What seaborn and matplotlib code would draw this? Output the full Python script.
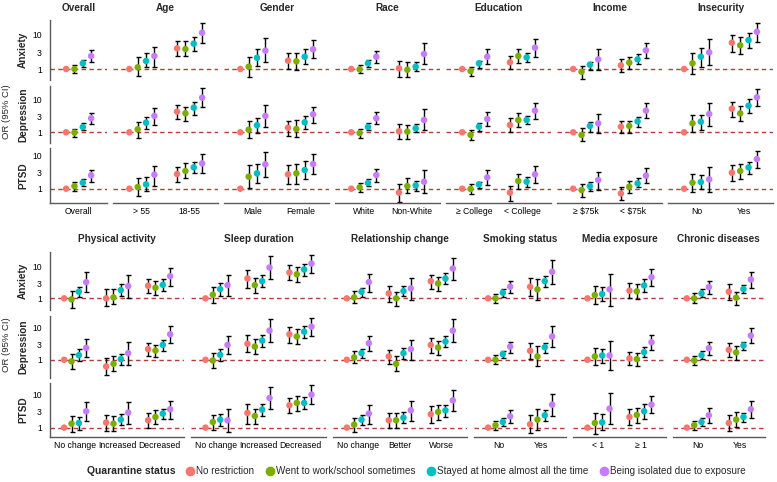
import numpy as np
import pandas as pd
import matplotlib
matplotlib.use("Agg")
import matplotlib.pyplot as plt
from matplotlib.lines import Line2D
from matplotlib.ticker import FixedLocator, NullLocator
import seaborn as sns

sns.set_theme(style="white")
plt.rcParams['font.family'] = ['Liberation Sans', 'DejaVu Sans']

N = None
STATUSES = ["No restriction", "Went to work/school sometimes",
            "Stayed at home almost all the time", "Being isolated due to exposure"]
COLORS = ["#F8766D", "#7CAE00", "#00BFC4", "#C77CFF"]
OUTCOMES = ["Anxiety", "Depression", "PTSD"]

# ---- each value: (OR, lower CI, upper CI); reference group has no CI ----
overall_groups = ["Overall"]
overall_anx = [[(1, N, N), (1.0, 0.75, 1.28), (1.47, 1.17, 1.8), (2.41, 1.64, 3.62)]]
overall_dep = [[(1, N, N), (0.98, 0.74, 1.29), (1.45, 1.15, 1.87), (2.66, 1.79, 3.76)]]
overall_ptsd = [[(1, N, N), (1.2, 0.87, 1.59), (1.52, 1.2, 1.96), (2.54, 1.63, 3.68)]]

age_groups = ["> 55", "18-55"]
age_anx = [[(1, N, N), (1.12, 0.61, 2.2), (1.72, 1.17, 2.89), (2.41, 1.17, 4.53)],
           [(4.05, 2.47, 6.8), (3.87, 2.41, 6.5), (5.57, 3.46, 8.9), (11.7, 5.95, 23)]]
age_dep = [[(1, N, N), (1.23, 0.69, 2.1), (1.96, 1.23, 2.98), (3.13, 1.67, 5.6)],
           [(4.23, 2.54, 6.7), (3.76, 2.25, 6.0), (5.6, 3.35, 8.5), (11.2, 5.7, 21.6)]]
age_ptsd = [[(1, N, N), (1.12, 0.6, 2.06), (1.35, 0.85, 2.2), (2.66, 1.2, 4.87)],
            [(2.78, 1.63, 4.43), (3.43, 2.06, 5.85), (4.43, 2.92, 6.6), (5.85, 2.92, 11.2)]]

gender_groups = ["Male", "Female"]
gender_anx = [[(1, N, N), (1.17, 0.6, 2.3), (2.15, 1.22, 3.79), (3.46, 1.57, 8.0)],
              [(1.76, 0.98, 3.02), (1.68, 0.93, 2.89), (2.3, 1.4, 3.79), (3.79, 2.06, 7.1)]]
gender_dep = [[(1, N, N), (1.2, 0.66, 2.25), (1.63, 0.98, 2.78), (3.13, 1.48, 6.7)],
              [(1.38, 0.77, 2.25), (1.26, 0.74, 2.36), (2.01, 1.23, 3.2), (3.51, 1.96, 6.0)]]
gender_ptsd = [[(1, N, N), (2.31, 1.02, 5.1), (2.92, 1.45, 5.6), (5.47, 2.31, 13.2)],
               [(2.72, 1.35, 5.2), (2.92, 1.38, 5.6), (3.68, 1.96, 6.9), (5.6, 2.72, 11.2)]]

race_groups = ["White", "Non-White"]
race_anx = [[(1, N, N), (0.98, 0.75, 1.31), (1.47, 1.17, 1.84), (2.3, 1.47, 3.46)],
            [(1.05, 0.6, 1.72), (0.95, 0.57, 1.57), (1.17, 0.87, 1.64), (2.76, 1.37, 5.7)]]
race_dep = [[(1, N, N), (0.95, 0.69, 1.29), (1.45, 1.18, 1.87), (2.66, 1.75, 4.04)],
            [(1.07, 0.63, 1.79), (1.05, 0.63, 1.67), (1.32, 1.0, 1.79), (2.36, 1.18, 4.98)]]
race_ptsd = [[(1, N, N), (1.1, 0.81, 1.52), (1.49, 1.2, 1.92), (2.6, 1.63, 3.95)],
             [(0.76, 0.4, 1.38), (1.2, 0.72, 2.06), (1.26, 0.87, 1.71), (1.63, 0.76, 3.68)]]

edu_groups = ["≥ College", "< College"]
edu_anx = [[(1, N, N), (0.87, 0.62, 1.17), (1.47, 1.09, 1.72), (2.3, 1.4, 3.79)],
           [(1.57, 0.98, 2.47), (2.41, 1.47, 3.79), (2.2, 1.57, 3.02), (4.24, 2.3, 7.45)]]
edu_dep = [[(1, N, N), (0.83, 0.59, 1.17), (1.48, 1.12, 1.87), (2.53, 1.56, 4.23)],
           [(1.67, 1.0, 2.66), (2.36, 1.48, 3.76), (2.36, 1.75, 3.13), (4.53, 2.53, 7.9)]]
edu_ptsd = [[(1, N, N), (0.98, 0.69, 1.35), (1.35, 1.02, 1.63), (2.2, 1.29, 3.68)],
            [(0.76, 0.42, 1.23), (1.71, 0.98, 2.85), (1.63, 1.15, 2.31), (2.72, 1.52, 4.98)]]

income_groups = ["≥ \\$75k", "< \\$75k"]
income_anx = [[(1, N, N), (0.83, 0.51, 1.22), (1.34, 0.93, 1.64), (1.92, 0.93, 3.79)],
              [(1.28, 0.83, 1.92), (1.54, 0.98, 2.2), (1.92, 1.37, 2.7), (3.54, 2.06, 5.7)]]
income_dep = [[(1, N, N), (0.83, 0.55, 1.32), (1.56, 1.05, 2.1), (1.87, 0.98, 3.51)],
              [(1.48, 0.98, 2.25), (1.56, 0.98, 2.25), (2.15, 1.48, 2.98), (4.53, 2.78, 7.6)]]
income_ptsd = [[(1, N, N), (0.91, 0.57, 1.38), (1.2, 0.85, 1.63), (1.83, 0.91, 3.27)],
               [(0.72, 0.45, 1.1), (1.15, 0.76, 1.75), (1.45, 1.1, 2.06), (2.48, 1.52, 4.13)]]

insec_groups = ["No", "Yes"]
insec_anx = [[(1, N, N), (1.47, 0.71, 2.89), (2.3, 1.17, 4.05), (3.09, 1.31, 7.45)],
             [(5.95, 3.24, 10.2), (4.97, 2.7, 8.5), (7.1, 4.24, 11.7), (12.5, 6.35, 23)]]
insec_dep = [[(1, N, N), (1.87, 1.0, 3.35), (2.1, 1.18, 3.43), (3.6, 1.59, 7.6)],
             [(5.2, 2.98, 8.5), (3.76, 2.25, 6.3), (6.4, 3.95, 10), (11.5, 6.3, 20.5)]]
insec_ptsd = [[(1, N, N), (1.52, 0.81, 2.78), (1.59, 0.95, 2.6), (1.92, 0.77, 4.43)],
              [(3.05, 1.75, 5.2), (3.43, 1.96, 5.6), (4.43, 2.78, 6.6), (7.9, 4.13, 14.2)]]

pa_groups = ["No change", "Increased", "Decreased"]
pa_anx = [[(1, N, N), (0.93, 0.49, 1.69), (1.61, 1.07, 2.3), (3.2, 1.53, 6.4)],
          [(1.0, 0.58, 1.9), (1.07, 0.65, 1.9), (1.81, 1.18, 2.77), (2.41, 1.05, 5.5)],
          [(2.46, 1.43, 3.96), (2.14, 1.27, 3.43), (2.64, 1.69, 3.87), (4.9, 2.46, 8.9)]]
pa_dep = [[(1, N, N), (0.89, 0.51, 1.5), (1.39, 0.93, 2.14), (2.35, 1.18, 4.36)],
          [(0.62, 0.33, 1.13), (0.75, 0.44, 1.27), (1.05, 0.7, 1.53), (1.61, 0.67, 3.69)],
          [(2.14, 1.33, 3.43), (1.94, 1.18, 2.9), (2.9, 1.94, 4.15), (6.2, 3.27, 11.3)]]
pa_ptsd = [[(1, N, N), (1.32, 0.74, 2.2), (1.38, 0.87, 2.1), (3.13, 1.59, 6.0)],
           [(1.42, 0.79, 2.42), (1.32, 0.79, 2.2), (1.75, 1.18, 2.54), (2.85, 1.32, 6.0)],
           [(1.67, 1.0, 2.78), (2.1, 1.26, 3.35), (2.66, 1.87, 3.68), (3.6, 1.83, 6.4)]]

sleep_groups = ["No change", "Increased", "Decreased"]
sleep_anx = [[(1, N, N), (1.3, 0.7, 2.3), (1.94, 1.18, 3.05), (2.58, 1.21, 5.5)],
             [(4.15, 2.04, 7.9), (2.58, 1.43, 4.36), (3.43, 2.19, 5.15), (9.1, 3.87, 20.4)],
             [(6.36, 3.69, 10.7), (5.6, 3.27, 9.5), (7.9, 4.9, 12.1), (12.1, 6.2, 22.8)]]
sleep_dep = [[(1, N, N), (0.95, 0.55, 1.61), (1.43, 0.93, 2.14), (2.9, 1.5, 5.5)],
             [(3.13, 1.69, 5.9), (2.58, 1.5, 4.36), (3.96, 2.58, 5.9), (8.1, 3.69, 18.1)],
             [(6.2, 3.43, 10.2), (5.3, 3.05, 9.1), (7.5, 4.67, 11.3), (10.7, 5.5, 20.4)]]
sleep_ptsd = [[(1, N, N), (1.48, 0.83, 2.48), (1.75, 1.1, 2.66), (1.67, 0.74, 3.76)],
              [(2.78, 1.32, 5.3), (2.25, 1.32, 3.76), (3.51, 2.25, 5.3), (7.9, 3.6, 17.1)],
              [(4.75, 2.78, 7.9), (5.6, 3.13, 9.3), (5.6, 3.6, 8.5), (10.0, 5.1, 19.2)]]

rel_groups = ["No change", "Better", "Worse"]
rel_anx = [[(1, N, N), (1.07, 0.7, 1.73), (1.61, 1.13, 2.14), (3.2, 1.61, 5.65)],
           [(1.43, 0.79, 2.41), (1.0, 0.59, 1.61), (1.69, 1.18, 2.41), (2.04, 0.89, 4.15)],
           [(3.43, 1.9, 5.5), (2.91, 1.69, 4.67), (4.15, 2.78, 6.2), (8.5, 3.69, 18.5)]]
rel_dep = [[(1, N, N), (1.18, 0.79, 1.81), (1.61, 1.13, 2.14), (3.27, 1.81, 5.5)],
           [(1.27, 0.75, 2.04), (0.75, 0.44, 1.27), (1.61, 1.07, 2.3), (2.14, 1.0, 4.15)],
           [(2.9, 1.61, 4.9), (2.41, 1.43, 3.87), (3.69, 2.58, 5.3), (8.1, 3.69, 18.1)]]
rel_ptsd = [[(1, N, N), (1.23, 0.74, 1.96), (1.75, 1.18, 2.36), (2.66, 1.32, 4.75)],
            [(1.67, 1.0, 2.85), (1.67, 1.0, 2.78), (2.0, 1.38, 2.91), (3.35, 1.59, 6.3)],
            [(2.54, 1.38, 4.43), (2.98, 1.67, 4.98), (3.35, 2.1, 4.98), (6.7, 3.2, 14.2)]]

smoke_groups = ["No", "Yes"]
smoke_anx = [[(1, N, N), (1.0, 0.7, 1.36), (1.5, 1.07, 1.9), (2.3, 1.43, 3.51)],
             [(2.3, 1.18, 4.15), (1.9, 0.89, 3.87), (3.43, 2.19, 5.0), (6.7, 2.78, 15.3)]]
smoke_dep = [[(1, N, N), (1.0, 0.75, 1.36), (1.5, 1.13, 1.9), (2.58, 1.61, 3.69)],
             [(1.9, 1.05, 3.27), (1.27, 0.62, 2.7), (2.46, 1.61, 3.43), (5.3, 2.46, 11.5)]]
smoke_ptsd = [[(1, N, N), (1.18, 0.87, 1.59), (1.48, 1.1, 1.96), (2.2, 1.42, 3.35)],
              [(1.26, 0.69, 2.36), (1.75, 0.83, 3.6), (2.36, 1.59, 3.35), (4.98, 2.25, 10.7)]]

media_groups = ["< 1", "≥ 1"]
media_anx = [[(1, N, N), (1.27, 0.65, 2.46), (1.36, 0.83, 2.3), (1.9, 0.59, 5.9)],
             [(1.73, 1.0, 2.91), (1.65, 0.93, 2.77), (2.52, 1.57, 4.05), (4.56, 2.46, 8.1)]]
media_dep = [[(1, N, N), (1.27, 0.7, 2.3), (1.36, 0.79, 2.14), (1.36, 0.47, 3.96)],
             [(1.1, 0.67, 1.73), (1.05, 0.65, 1.61), (1.73, 1.18, 2.58), (3.51, 2.04, 5.9)]]
media_ptsd = [[(1, N, N), (1.38, 0.66, 2.85), (1.45, 0.83, 2.54), (3.76, 1.32, 11.2)],
              [(2.1, 1.18, 3.6), (2.42, 1.42, 3.96), (3.13, 1.87, 5.1), (4.98, 2.78, 9.1)]]

chronic_groups = ["No", "Yes"]
chronic_anx = [[(1, N, N), (1.0, 0.73, 1.43), (1.43, 1.07, 1.9), (2.24, 1.36, 3.51)],
               [(1.61, 0.89, 2.77), (1.05, 0.62, 1.61), (1.94, 1.43, 2.58), (3.87, 2.04, 6.7)]]
chronic_dep = [[(1, N, N), (0.95, 0.7, 1.27), (1.39, 1.05, 1.81), (2.3, 1.43, 3.51)],
               [(2.04, 1.18, 3.27), (1.69, 1.0, 2.7), (2.78, 2.04, 3.69), (5.65, 3.27, 10.0)]]
chronic_ptsd = [[(1, N, N), (1.18, 0.87, 1.59), (1.48, 1.1, 2.0), (2.36, 1.42, 3.87)],
                [(1.38, 0.79, 2.48), (1.75, 1.05, 2.98), (2.1, 1.48, 2.85), (3.6, 2.0, 6.3)]]

TOP_FACETS = [("Overall", overall_groups, [overall_anx, overall_dep, overall_ptsd]),
              ("Age", age_groups, [age_anx, age_dep, age_ptsd]),
              ("Gender", gender_groups, [gender_anx, gender_dep, gender_ptsd]),
              ("Race", race_groups, [race_anx, race_dep, race_ptsd]),
              ("Education", edu_groups, [edu_anx, edu_dep, edu_ptsd]),
              ("Income", income_groups, [income_anx, income_dep, income_ptsd]),
              ("Insecurity", insec_groups, [insec_anx, insec_dep, insec_ptsd])]
BOTTOM_FACETS = [("Physical activity", pa_groups, [pa_anx, pa_dep, pa_ptsd]),
                 ("Sleep duration", sleep_groups, [sleep_anx, sleep_dep, sleep_ptsd]),
                 ("Relationship change", rel_groups, [rel_anx, rel_dep, rel_ptsd]),
                 ("Smoking status", smoke_groups, [smoke_anx, smoke_dep, smoke_ptsd]),
                 ("Media exposure", media_groups, [media_anx, media_dep, media_ptsd]),
                 ("Chronic diseases", chronic_groups, [chronic_anx, chronic_dep, chronic_ptsd])]

# ---- layout / style ----
W, H = 777, 482
DODGE = 0.7
OFFS = [(-1.5 + i) * DODGE / 4 for i in range(4)]
AXIS_COLOR = "#5a5a5a"
REF_COLOR = "#B0403C"

fig = plt.figure(figsize=(W / 100, H / 100), dpi=100)


def px_axes(x0, x1, y0, y1):
    return fig.add_axes([x0 / W, 1 - y1 / H, (x1 - x0) / W, (y1 - y0) / H])


def panel_df(groups, rows):
    recs = []
    for gi, g in enumerate(groups):
        for si, s in enumerate(STATUSES):
            orv, lo, hi = rows[gi][si]
            recs.append(dict(x=gi + OFFS[si], group=g, status=s, OR=orv,
                             lo=np.nan if lo is None else lo,
                             hi=np.nan if hi is None else hi))
    return pd.DataFrame(recs)


def draw_block(facets, x_start, x_end, gap, boxes, ylims, yticks, title_y):
    units = [len(g) - 1 + 1.2 for _, g, _ in facets]
    upx = (x_end - x_start - gap * (len(facets) - 1)) / sum(units)
    x = x_start
    for fi, (title, groups, rows) in enumerate(facets):
        w = units[fi] * upx
        fig.text((x + w / 2) / W, 1 - title_y / H, title, ha="center", va="center",
                 fontsize=7.2, fontweight="bold")
        for ri in range(3):
            y0, y1 = boxes[ri]
            ax = px_axes(x, x + w, y0, y1)
            df = panel_df(groups, rows[ri])
            ax.set_yscale("log")
            ax.axhline(1, color=REF_COLOR, lw=1.0, ls=(0, (3.2, 2.4)), zorder=1)
            ci = df.dropna(subset=["lo"])
            ax.errorbar(ci["x"], ci["OR"], yerr=[ci["OR"] - ci["lo"], ci["hi"] - ci["OR"]],
                        fmt="none", ecolor="black", elinewidth=1.0, capsize=1.8,
                        capthick=1.0, zorder=2)
            sns.scatterplot(data=df, x="x", y="OR", hue="status", hue_order=STATUSES,
                            palette=COLORS, s=22, linewidth=0, legend=False, ax=ax,
                            zorder=3)
            ax.set_xlim(-0.6, len(groups) - 0.4)
            ax.set_ylim(*ylims[ri])
            ax.yaxis.set_major_locator(FixedLocator(yticks[ri]))
            ax.yaxis.set_minor_locator(NullLocator())
            ax.set_yticklabels([f"{t:g}" for t in yticks[ri]] if fi == 0 else [])
            ax.set_xticks(range(len(groups)))
            ax.set_xticklabels(groups if ri == 2 else [])
            ax.set_xlabel("")
            ax.set_ylabel("")
            ax.tick_params(axis="both", length=0, labelsize=6.2, colors="black")
            ax.tick_params(axis="y", pad=6)
            ax.tick_params(axis="x", pad=3)
            for side in ["top", "right", "left", "bottom"]:
                ax.spines[side].set_visible(False)
            if fi == 0:
                ax.spines["left"].set_visible(True)
                ax.spines["left"].set_color(AXIS_COLOR)
                ax.spines["left"].set_linewidth(1.0)
            if ri == 2:
                ax.spines["bottom"].set_visible(True)
                ax.spines["bottom"].set_color(AXIS_COLOR)
                ax.spines["bottom"].set_linewidth(1.0)
            ax.set_facecolor("none")
        x += w + gap
    for ri, name in enumerate(OUTCOMES):
        y0, y1 = boxes[ri]
        fig.text(23 / W, 1 - (y0 + y1) / 2 / H, name, rotation=90, ha="center",
                 va="center", fontsize=7.2, fontweight="bold")
    fig.text(7 / W, 1 - (boxes[0][0] + boxes[2][1]) / 2 / H, "OR (95% CI)",
             rotation=90, ha="center", va="center", fontsize=6.8)


draw_block(TOP_FACETS, 50, 773, 6,
           [(20, 80), (86, 143), (148, 203)],
           [(0.475, 27.6), (0.474, 25.3), (0.369, 17.1)],
           [[1, 3, 10, 30], [1, 3, 10], [1, 3, 10]], 8)
draw_block(BOTTOM_FACETS, 50, 765, 7,
           [(252, 310), (316, 378), (383, 437)],
           [(0.434, 27.7), (0.271, 23.0), (0.52, 22.5)],
           [[1, 3, 10], [1, 3, 10], [1, 3, 10]], 239)

# legend
fig.text(87 / W, 1 - 471 / H, "Quarantine status", ha="left", va="center",
         fontsize=7.5, fontweight="bold")
handles = [Line2D([0], [0], marker="o", ls="", color=c, markersize=6) for c in COLORS]
fig.legend(handles, STATUSES, ncol=4, loc="center left",
           bbox_to_anchor=(184 / W, 1 - 471 / H), frameon=False, fontsize=7.1,
           handletextpad=0.05, columnspacing=0.95, handlelength=1.2, borderaxespad=0,
           borderpad=0)

fig.savefig("out.png", dpi=100, facecolor="white")
